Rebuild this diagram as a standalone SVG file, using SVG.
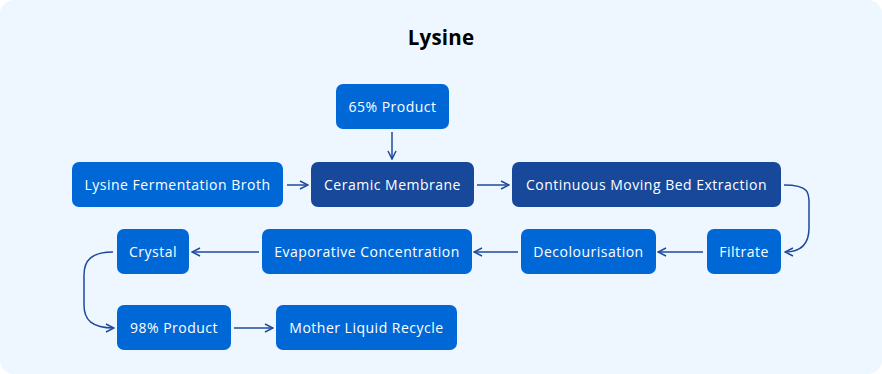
<svg xmlns="http://www.w3.org/2000/svg" width="882" height="374" viewBox="0 0 882 374">
<defs>
<style>
.bg{fill:#EEF7FF}
.n{fill:#0068D6}
.d{fill:#17489A}
.t{fill:#FFFFFF;font-family:"Open Sans","Liberation Sans",sans-serif;font-size:14px;letter-spacing:0.5px;text-anchor:middle;dominant-baseline:central}
.title{fill:#000000;font-family:"Open Sans","Liberation Sans",sans-serif;font-size:20.5px;font-weight:700;letter-spacing:0.2px;text-anchor:middle}
.c{fill:none;stroke:#1E4B9C;stroke-width:1.5}
</style>
<marker id="ah" viewBox="0 0 10 10" refX="9" refY="5" markerWidth="10" markerHeight="10" markerUnits="userSpaceOnUse" orient="auto">
<path d="M1,1 L9,5 L1,9" fill="none" stroke="#1E4B9C" stroke-width="1.5"/>
</marker>
</defs>
<rect class="bg" x="0" y="0" width="882" height="374" rx="14"/>
<text class="title" x="441" y="45">Lysine</text>
<g id="connectors">
<path class="c" d="M392,132 V159" marker-end="url(#ah)"/>
<path class="c" d="M287,185 H308" marker-end="url(#ah)"/>
<path class="c" d="M477,185 H509" marker-end="url(#ah)"/>
<path class="c" d="M784,185 C812,185 809,195 809,208 V228 C809,245 800,252 785,252" marker-end="url(#ah)"/>
<path class="c" d="M703,252 H658" marker-end="url(#ah)"/>
<path class="c" d="M518,252 H474" marker-end="url(#ah)"/>
<path class="c" d="M259,252 H192" marker-end="url(#ah)"/>
<path class="c" d="M113,252 C92,252 84,260 84,275 V305 C84,320 92,328 114,328" marker-end="url(#ah)"/>
<path class="c" d="M234,328 H273" marker-end="url(#ah)"/>
</g>
<g id="n65"><rect class="n" x="336" y="84" width="113" height="45" rx="7"/><text class="t" x="392.5" y="106.5">65% Product</text></g>
<g id="broth"><rect class="n" x="72" y="162" width="211" height="45" rx="7"/><text class="t" x="177.5" y="184.5">Lysine Fermentation Broth</text></g>
<g id="ceramic"><rect class="d" x="311" y="162" width="163" height="45" rx="7"/><text class="t" x="392.5" y="184.5">Ceramic Membrane</text></g>
<g id="cmbe"><rect class="d" x="512" y="162" width="269" height="45" rx="7"/><text class="t" x="646.5" y="184.5">Continuous Moving Bed Extraction</text></g>
<g id="filtrate"><rect class="n" x="707" y="229" width="74" height="45" rx="7"/><text class="t" x="744" y="251.5">Filtrate</text></g>
<g id="decol"><rect class="n" x="521" y="229" width="135" height="45" rx="7"/><text class="t" x="588.5" y="251.5">Decolourisation</text></g>
<g id="evap"><rect class="n" x="262" y="229" width="210" height="45" rx="7"/><text class="t" x="367" y="251.5">Evaporative Concentration</text></g>
<g id="crystal"><rect class="n" x="117" y="229" width="72" height="45" rx="7"/><text class="t" x="153" y="251.5">Crystal</text></g>
<g id="n98"><rect class="n" x="117" y="305" width="114" height="45" rx="7"/><text class="t" x="174" y="327.5">98% Product</text></g>
<g id="mother"><rect class="n" x="276" y="305" width="181" height="45" rx="7"/><text class="t" x="366.5" y="327.5">Mother Liquid Recycle</text></g>
</svg>
